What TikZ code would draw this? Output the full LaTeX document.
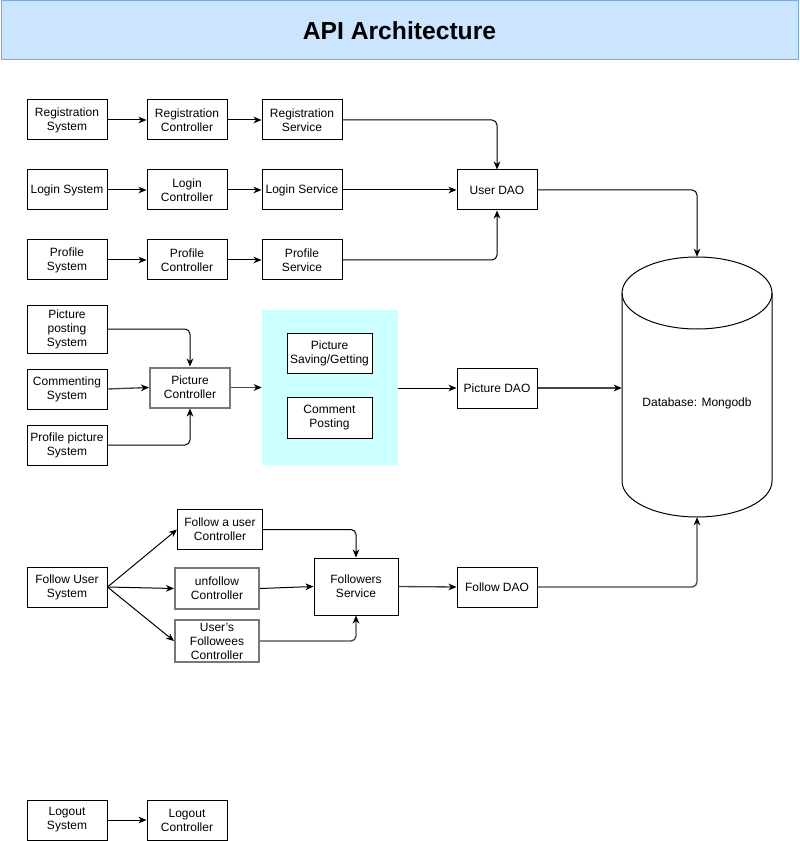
\documentclass[tikz,border=0pt]{standalone}
\usepackage{fontspec}
\setmainfont{Liberation Sans}
\usetikzlibrary{arrows.meta}
\definecolor{titlefill}{RGB}{204,229,255}
\definecolor{titledraw}{RGB}{126,166,224}
\definecolor{cyanfill}{RGB}{204,255,255}
\definecolor{greyline}{RGB}{120,120,120}
\definecolor{darkline}{RGB}{70,70,70}
\tikzset{
  px/.style={x=0.75pt,y=-0.75pt},
  box/.style={draw, line width=0.75pt, fill=white, inner sep=1pt, align=center,
    font=\fontsize{9}{10.5}\selectfont, minimum width=60pt, minimum height=30pt},
  gbox/.style={box, draw=greyline, line width=1.5pt},
  wd/.style={minimum width=#1*0.75pt},
  ht/.style={minimum height=#1*0.75pt},
  arr/.style={line width=0.75pt, rounded corners=3.75pt,
    -{Stealth[length=6pt,width=5pt,inset=1.8pt]}},
  garr/.style={arr, draw=darkline, line width=1pt,
    -{Stealth[length=6pt,width=5pt,inset=1.8pt,color=black]}},
  txt/.style={font=\fontsize{9}{10.5}\selectfont, align=center, inner sep=0pt}
}
\begin{document}
\begin{tikzpicture}[px]
\useasboundingbox (0,0) rectangle (799,841);
% title
\node[draw=titledraw, fill=titlefill, line width=0.75pt, minimum width=597.75pt, minimum height=44.25pt,
  inner sep=0pt, font=\fontsize{18.5}{20}\selectfont\bfseries] (title) at (399.5,30.5) {API Architecture};

% row 1-3
\node[box] (rsys) at (67,120) {Registration\\System};
\node[box] (rctl) at (187,120) {Registration\\Controller};
\node[box] (rsvc) at (302,120) {Registration\\Service};
\node[box] (lsys) at (67,190) {Login System};
\node[box] (lctl) at (187,190) {Login\\Controller};
\node[box] (lsvc) at (302,190) {Login Service};
\node[box] (udao) at (497,190) {User DAO};
\node[box] (psys) at (67,260) {Profile\\System};
\node[box] (pctl) at (187,260) {Profile\\Controller};
\node[box] (psvc) at (302,260) {Profile\\Service};

% picture section
\node[box, ht=48] (pps) at (67,329) {Picture\\posting\\System};
\node[box] (csys) at (67,389) {Commenting\\System};
\node[box] (ppsys) at (67,445) {Profile picture\\System};
\node[gbox] (pc) at (190,387.5) {Picture\\Controller};
\node[fill=cyanfill, inner sep=0pt, wd=136, ht=155] (cyan) at (330,387.5) {};
\node[box, wd=85] (psg) at (329.5,353) {Picture\\Saving/Getting};
\node[box, wd=85, ht=41] (cp) at (329.5,417.5) {Comment\\Posting};
\node[box] (pdao) at (497,388) {Picture DAO};

% database
\node[inner sep=0pt, wd=150, ht=260] (db) at (697,387) {};
\filldraw[fill=white, line width=0.75pt]
  (622,293) -- (622,481) arc[start angle=180, end angle=0, x radius=75, y radius=36]
  -- (772,293) arc[start angle=0, end angle=-180, x radius=75, y radius=36] -- cycle;
\draw[line width=0.75pt] (622,293) arc[start angle=180, end angle=0, x radius=75, y radius=36];
\node[txt] (dbl) at (697,403) {Database: Mongodb};

% follow section
\node[box] (fus) at (67,587) {Follow User\\System};
\node[box, wd=85] (fuc) at (220,529.5) {Follow a user\\Controller};
\node[gbox, wd=84, ht=41] (ufc) at (217,588.5) {unfollow\\Controller};
\node[gbox, wd=84, ht=42] (ufe) at (217,641) {User's\\Followees\\Controller};
\node[box, wd=84, ht=57] (fsvc) at (356,586.5) {Followers\\Service};
\node[box] (fdao) at (497,587) {Follow DAO};

% logout
\node[box] (losys) at (67,820) {Logout\\System};
\node[box] (loctl) at (187,820) {Logout\\Controller};

% connectors
\draw[arr] (rsys) -- (rctl);
\draw[arr] (rctl) -- (rsvc);
\draw[arr] (rsvc.east) -| (udao.north);
\draw[arr] (lsys) -- (lctl);
\draw[arr] (lctl) -- (lsvc);
\draw[arr] (lsvc) -- (udao);
\draw[arr] (psys) -- (pctl);
\draw[arr] (pctl) -- (psvc);
\draw[arr] (psvc.east) -| (udao.south);
\draw[arr] (udao.east) -| (db.north);

\draw[arr] (pps.east) -| (pc.north);
\draw[garr] (csys.east) -- (pc.west);
\draw[arr] (ppsys.east) -| (pc.south);
\draw[garr] (pc.east) -- (cyan.west);
\draw[arr] (cyan.east |- pdao.west) -- (pdao.west);
\draw[garr] (pdao.east) -- (db.west |- pdao.east);

\draw[arr] (fus.east) -- (fuc.west);
\draw[arr] (fus.east) -- (ufc.west);
\draw[arr] (fus.east) -- (ufe.west);
\draw[arr] (fuc.east) -| (fsvc.north);
\draw[arr] (ufc.east) -- (fsvc.west);
\draw[garr] (ufe.east) -| (fsvc.south);
\draw[garr] (fsvc.east) -- (fdao.west);
\draw[garr] (fdao.east) -| (db.south);

\draw[arr] (losys) -- (loctl);
\end{tikzpicture}
\end{document}
